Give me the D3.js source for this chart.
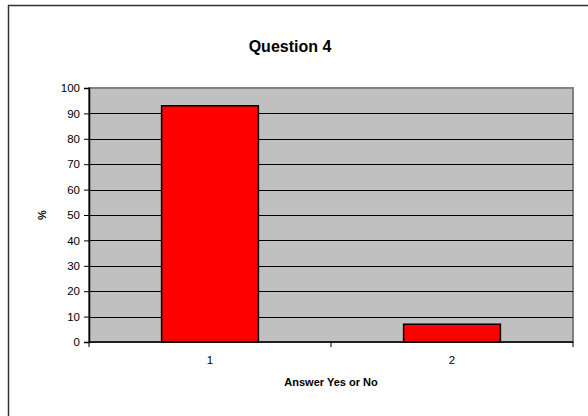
<!doctype html>
<html lang='en'>
  <head>
    <meta charset='utf-8' />
    <style>
      * { padding: 0; margin: 0; }
      html, body { overflow: hidden; background: #fff; font-family: 'Liberation Sans', Arial, sans-serif; }
    </style>
    <title>Question 4</title>
  </head>
  <body>
    <div id='container'></div>
    <script src='https://d3js.org/d3.v7.min.js'></script>
    <script type='text/javascript'>

      var categories = ['1', '2'];
      var values = [93, 7];
      var yTicks = [0, 10, 20, 30, 40, 50, 60, 70, 80, 90, 100];

      const svg_width = 588,
            svg_height = 416;

      const plotLeft = 89, plotRight = 573, plotTop = 88, plotBottom = 342;

      var svg = d3.select('#container').append('svg')
          .attr('width', svg_width)
          .attr('height', svg_height)
          .style('display', 'block');

      // outer chart frame: only its left and top edges fall inside the picture
      svg.append('path')
        .attr('d', 'M8.5,' + svg_height + 'V5.5H' + (svg_width + 5))
        .attr('fill', 'none')
        .attr('stroke', '#333')
        .attr('stroke-width', 1.5);

      var x = d3.scaleBand().domain(categories).range([plotLeft, plotRight]).paddingInner(0).paddingOuter(0);
      var y = d3.scaleLinear().domain([0, 100]).range([plotBottom, plotTop]);

      // plot area
      svg.append('rect')
        .attr('x', plotLeft).attr('y', plotTop)
        .attr('width', plotRight - plotLeft).attr('height', plotBottom - plotTop)
        .attr('fill', '#c0c0c0')
        .attr('stroke', '#808080')
        .attr('stroke-width', 2);

      // gridlines
      svg.append('g').selectAll('line')
        .data(yTicks.filter(function(d) { return d > 0 && d < 100; }))
        .enter().append('line')
        .attr('x1', plotLeft).attr('x2', plotRight)
        .attr('y1', function(d) { return Math.round(y(d)) + 0.5; })
        .attr('y2', function(d) { return Math.round(y(d)) + 0.5; })
        .attr('stroke', '#000')
        .attr('stroke-width', 1);

      // bars
      var barW = x.bandwidth() * 0.4;
      svg.append('g').selectAll('rect')
        .data(values)
        .enter().append('rect')
        .attr('x', function(d, i) { return x(categories[i]) + (x.bandwidth() - barW) / 2; })
        .attr('y', function(d) { return y(d); })
        .attr('width', barW)
        .attr('height', function(d) { return plotBottom - y(d); })
        .attr('fill', '#ff0000')
        .attr('stroke', '#000')
        .attr('stroke-width', 1.5);

      // y axis
      var yAxis = svg.append('g')
        .attr('transform', 'translate(' + plotLeft + ',0)')
        .call(d3.axisLeft(y).tickValues(yTicks).tickSize(5).tickPadding(4));
      yAxis.select('.domain').attr('stroke', '#000').attr('stroke-width', 1.5);
      yAxis.selectAll('text').attr('font-size', 11.5).attr('font-family', "'Liberation Sans', Arial, sans-serif").attr('fill', '#000');

      // x axis
      var xAxis = svg.append('g')
        .attr('transform', 'translate(0,' + plotBottom + ')');
      xAxis.append('line')
        .attr('x1', plotLeft).attr('x2', plotRight)
        .attr('y1', 0).attr('y2', 0)
        .attr('stroke', '#000').attr('stroke-width', 1.5);
      var xEdges = [x.range()[0]].concat(categories.map(function(c) { return x(c) + x.bandwidth(); }));
      xAxis.selectAll('line.tick')
        .data(xEdges)
        .enter().append('line')
        .attr('class', 'tick')
        .attr('x1', function(d) { return d; }).attr('x2', function(d) { return d; })
        .attr('y1', 0).attr('y2', 5)
        .attr('stroke', '#000');
      xAxis.selectAll('text')
        .data(categories)
        .enter().append('text')
        .attr('x', function(d) { return x(d) + x.bandwidth() / 2; })
        .attr('y', 22)
        .attr('text-anchor', 'middle')
        .attr('font-size', 11.5)
        .text(function(d) { return d; });

      // titles
      svg.append('text')
        .attr('x', 290).attr('y', 52)
        .attr('text-anchor', 'middle')
        .attr('font-size', 16).attr('font-weight', 'bold')
        .text('Question 4');

      svg.append('text')
        .attr('x', (plotLeft + plotRight) / 2).attr('y', 386)
        .attr('text-anchor', 'middle')
        .attr('font-size', 11).attr('font-weight', 'bold')
        .text('Answer Yes or No');

      svg.append('text')
        .attr('transform', 'translate(46,' + ((plotTop + plotBottom) / 2) + ') rotate(-90)')
        .attr('text-anchor', 'middle')
        .attr('font-size', 11).attr('font-weight', 'bold')
        .text('%');
    </script>
  </body>
</html>
